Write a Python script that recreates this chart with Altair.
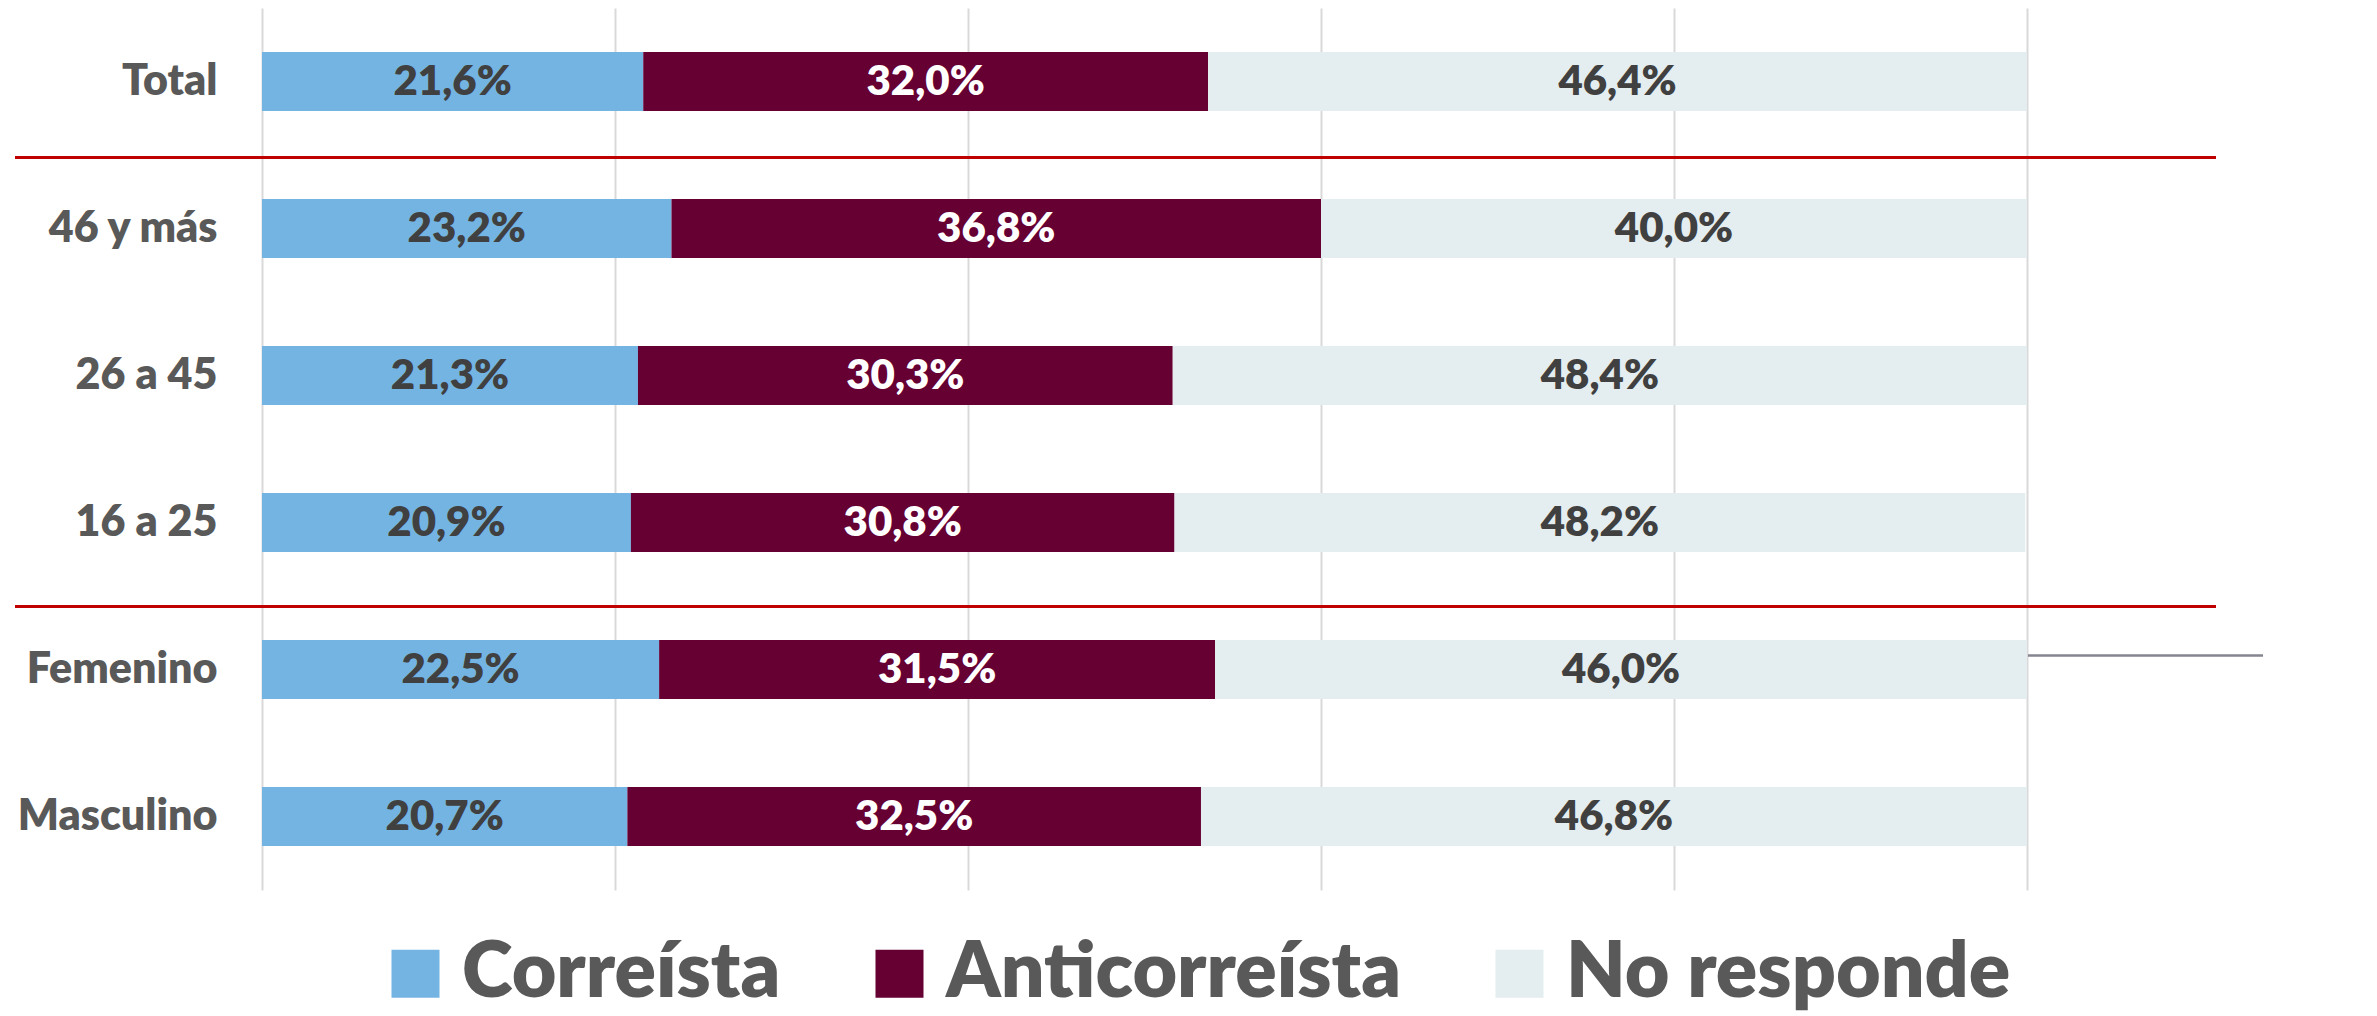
import altair as alt
import pandas as pd

rows = ["Total", "46 y más", "26 a 45", "16 a 25", "Femenino", "Masculino"]
series = ["Correísta", "Anticorreísta", "No responde"]
correista = [21.6, 23.2, 21.3, 20.9, 22.5, 20.7]
anticorreista = [32.0, 36.8, 30.3, 30.8, 31.5, 32.5]
no_responde = [46.4, 40.0, 48.4, 48.2, 46.0, 46.8]
colors = ["#74B4E3", "#660033", "#E4EDEF"]
grid_values = [0, 20, 40, 60, 80, 100]

FONT = "Lato"
WEIGHT = 800

records = []
for i, r in enumerate(rows):
    for j, (s, vals) in enumerate(zip(series, [correista, anticorreista, no_responde])):
        v = vals[i]
        records.append({"fila": r, "serie": s, "orden": j, "valor": v,
                        "etiqueta": f"{v:.1f}%".replace(".", ",")})
df = pd.DataFrame(records)

yscale = alt.Scale(domain=rows, paddingInner=0.6, paddingOuter=0.3)

base = alt.Chart(df).transform_stack(
    stack="valor", groupby=["fila"], as_=["x0", "x1"],
    sort=[alt.SortField(field="orden", order="ascending")]
).transform_calculate(mid="(datum.x0 + datum.x1) / 2")

bars = base.mark_bar().encode(
    x=alt.X("x0:Q", scale=alt.Scale(domain=[0, 100], nice=False),
            axis=alt.Axis(values=grid_values, labels=False, ticks=False, domain=False,
                          title=None, grid=True, gridColor="#D9D9D9", gridWidth=2)),
    x2="x1:Q",
    y=alt.Y("fila:N", sort=rows, scale=yscale,
            axis=alt.Axis(title=None, ticks=False, domain=False, labelFontSize=43,
                          labelFont=FONT, labelFontWeight=WEIGHT, labelColor="#595959",
                          labelPadding=45, labelLimit=500)),
    color=alt.Color("serie:N", scale=alt.Scale(domain=series, range=colors),
                    legend=alt.Legend(title=None, orient="none", legendX=115, legendY=927,
                                      direction="horizontal", symbolType="square",
                                      symbolSize=2304, symbolStrokeWidth=0,
                                      labelFontSize=77, labelFont=FONT,
                                      labelFontWeight=WEIGHT, labelColor="#595959",
                                      labelOffset=8, columnPadding=80, labelLimit=1000)),
)

labels = base.mark_text(fontSize=42, fontWeight=WEIGHT, font=FONT).encode(
    x="mid:Q",
    y=alt.Y("fila:N", sort=rows, scale=yscale),
    text="etiqueta:N",
    color=alt.condition(alt.datum.serie == "Anticorreísta", alt.value("#FFFFFF"), alt.value("#404040")),
)

sep1 = alt.Chart(pd.DataFrame({"fila": ["46 y más"]})).mark_rule(
    color="#C00000", strokeWidth=3, yOffset=-71).encode(
    y=alt.Y("fila:N", sort=rows, scale=yscale), x=alt.value(-247), x2=alt.value(1954))
sep2 = alt.Chart(pd.DataFrame({"fila": ["Femenino"]})).mark_rule(
    color="#C00000", strokeWidth=3, yOffset=-63).encode(
    y=alt.Y("fila:N", sort=rows, scale=yscale), x=alt.value(-247), x2=alt.value(1954))
leader = alt.Chart(pd.DataFrame({"fila": ["Femenino"]})).mark_rule(
    color="#85858F", strokeWidth=2.5, yOffset=-14).encode(
    y=alt.Y("fila:N", sort=rows, scale=yscale), x=alt.value(1766), x2=alt.value(2001))

chart = alt.layer(bars, labels, sep1, sep2, leader).properties(
    width=1765, height=882,
    autosize=alt.AutoSizeParams(type="none"),
    padding={"left": 254, "top": 0, "right": 342, "bottom": 126},
).configure_view(stroke=None)

chart.save("out.html", embed_options={"renderer": "svg", "actions": False})
